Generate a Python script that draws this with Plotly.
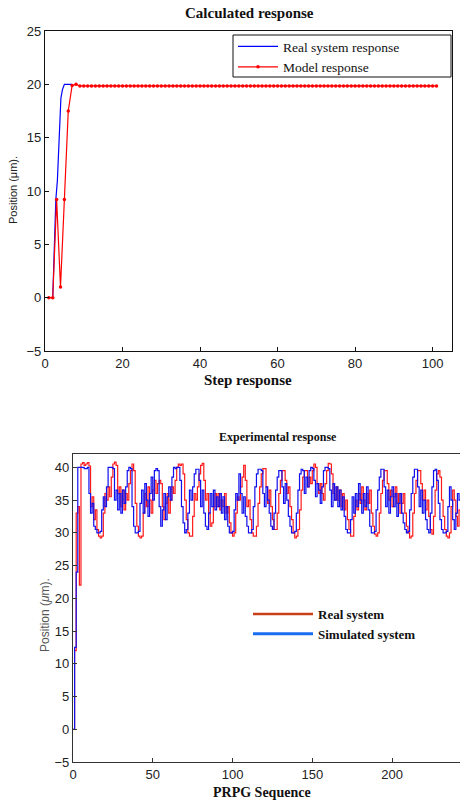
import plotly.graph_objects as go

# ---------- Top chart data: Calculated response ----------
real_step_x = [2, 2.8, 3.2, 3.5, 3.8, 4.1, 4.5, 5.0, 7.0]
real_step_y = [0, 9.2, 11, 14, 16.7, 18.7, 19.5, 20, 20]

model_step_x = list(range(1, 102))
model_step_y = [0, 0, 9.2, 1.0, 9.2, 17.5, 19.9, 20.0] + [19.85] * 93

# ---------- Bottom chart data: Experimental response ----------
sim_y = [
    0, 12.5, 24, 40, 40, 40, 40, 39.8, 39.8, 40,
    36, 33, 34.5, 31, 30.5, 30, 30, 30.2, 33.5, 35.5,
    34, 37, 40, 40, 40, 39.8, 35, 36.5, 33.5, 36,
    33, 36.5, 34.5, 37, 39.5, 40, 39.8, 34, 31, 30,
    30, 30.2, 34.5, 36.5, 33, 37.5, 35, 32.5, 36, 38.5,
    35, 39.5, 39.8, 39.5, 34, 31, 33.5, 36, 32, 35.5,
    37, 35, 38.5, 40, 39.8, 40, 40, 38, 34, 31.5,
    30, 30.5, 33, 36.5, 35, 37, 39, 39.7, 39.7, 38,
    34, 36.5, 33, 31, 30.5, 33, 36, 34, 36.5, 33.5,
    35.5, 34, 36, 33, 35.5, 32, 34, 31, 30, 30,
    30.2, 33.5, 36, 35, 39, 36, 33, 35.5, 32.5, 31,
    30, 30, 30.5, 34, 37, 39, 39.7, 39.7, 39.5, 36,
    34, 37, 35, 33, 31, 30.5, 33, 36.5, 38.5, 39.5,
    39.5, 37, 34.5, 37.5, 35, 32.5, 31, 30, 30, 30.2,
    33, 36.5, 39, 39.7, 39.5, 36, 38.5, 37, 39.5, 40,
    39.8, 38, 35.5, 37.5, 36.5, 34.5, 37, 39.5, 40, 40,
    39.8, 36.5, 34, 37.5, 35, 37, 34, 36.5, 33.5, 35.5,
    32.5, 30.5, 30, 30, 32, 35.5, 33, 36, 34, 37.5,
    35, 33, 36, 34, 37, 33.5, 31, 30, 30, 30.2,
    33.5, 36.5, 38.5, 39.7, 39.7, 37, 34, 36.5, 33, 35.5,
    37, 34, 36, 32.5, 34.5, 36, 33, 31.5, 30.5, 30,
    30.2, 33.5, 36, 38.5, 39.7, 39.7, 37, 34, 36.5, 33,
    35, 32, 30.5, 30, 33, 37, 39.5, 39.7, 38, 34.5,
    32, 30.5, 30, 30, 30.2, 34, 37, 35, 32, 30.5,
    33, 36, 35, 37,
]

real_y = [
    0, 12, 33, 34, 22, 40.5, 40.7, 40.3, 40.5, 40.7,
    40.2, 34, 35.5, 32, 33.5, 30.5, 29.5, 29.2, 29.5, 33,
    36, 35, 37, 35.5, 38.5, 40.5, 40.8, 40.3, 36, 37,
    34, 36.5, 33.5, 36, 35, 37.5, 39.5, 40.5, 39.5, 34.5,
    31, 29.5, 29.2, 29.5, 33, 36, 34, 37, 35, 33,
    36.5, 38, 36, 37.5, 38, 37.5, 34, 32, 34.5, 36,
    33, 35, 37, 36, 38, 40, 40.5, 40.3, 40.5, 39,
    35, 32, 30, 29.5, 29.5, 32.5, 36, 35, 37, 39,
    40.3, 40.6, 38, 35, 36, 33, 31, 31.5, 34, 36,
    34, 36, 33.5, 35, 34, 36, 33, 34, 31.5, 30,
    29.5, 30, 33, 35.5, 35, 37, 38.5, 40.3, 38, 34,
    35, 32, 30, 29.5, 29.5, 31, 34.5, 37, 39, 39.8,
    39.8, 37, 34.5, 36.5, 34, 32, 30.5, 30.5, 33, 36,
    38, 39.5, 39.5, 38, 36, 37, 34, 32, 30, 29.2,
    29.5, 30.5, 33.5, 36.5, 38.5, 39.5, 39.5, 37, 38.5, 37.5,
    39.5, 40.5, 40, 37.5, 36, 37.5, 36, 35, 37.5, 39.5,
    40.6, 40.5, 39, 36, 35, 37, 35, 36.5, 34, 36,
    33.5, 35, 32, 30.5, 29.5, 29.5, 32.5, 35, 33.5, 36,
    34.5, 37, 35, 33.5, 36, 34.5, 36.5, 33, 31, 29.8,
    29.5, 30, 33, 36, 38, 39.5, 39.5, 37.5, 35, 36.5,
    34, 35.5, 37, 34.5, 36, 33, 34.5, 36, 33, 31,
    30, 29.2, 29.5, 33, 36, 38, 39.5, 39.5, 37.5, 35,
    36.5, 33.5, 35, 32.5, 30.5, 29.8, 32.5, 36.5, 39, 39.5,
    38.5, 35, 32.5, 30.5, 29.5, 29.2, 30, 34, 36.5, 35,
    32.5, 31, 33.5, 36,
]
seq_x = list(range(len(sim_y)))

top_x_ticks = [0, 20, 40, 60, 80, 100]
top_y_ticks = [-5, 0, 5, 10, 15, 20, 25]
bot_x_ticks = [0, 50, 100, 150, 200]
bot_y_ticks = [-5, 0, 5, 10, 15, 20, 25, 30, 35, 40]

W, H = 460, 802
def px_x(p):
    return p / W
def px_y(p):
    return 1 - p / H

SERIF = "Liberation Serif, Times New Roman, serif"
SANS = "Liberation Sans, Arial, sans-serif"

fig = go.Figure()

fig.add_trace(go.Scatter(
    x=real_step_x, y=real_step_y, mode="lines", name="Real system response",
    line=dict(color="#0000ff", width=1.2), xaxis="x", yaxis="y", legend="legend",
))
fig.add_trace(go.Scatter(
    x=model_step_x, y=model_step_y, mode="lines+markers", name="Model response",
    line=dict(color="#ff0000", width=1.2), marker=dict(color="#ff0000", size=3.5, symbol="circle"),
    xaxis="x", yaxis="y", legend="legend",
))

fig.add_trace(go.Scatter(
    x=seq_x, y=real_y, mode="lines", line=dict(color="#ff1a1a", width=1.2, shape="hv"),
    showlegend=False, xaxis="x2", yaxis="y2",
))
fig.add_trace(go.Scatter(
    x=seq_x, y=sim_y, mode="lines", line=dict(color="#1010ee", width=1.2, shape="hv"),
    showlegend=False, xaxis="x2", yaxis="y2",
))
# legend entries for the bottom chart
fig.add_trace(go.Scatter(
    x=[None], y=[None], mode="lines", name="Real system",
    line=dict(color="#c8401a", width=2.5), xaxis="x2", yaxis="y2", legend="legend2",
))
fig.add_trace(go.Scatter(
    x=[None], y=[None], mode="lines", name="Simulated system",
    line=dict(color="#1a6cf0", width=3), xaxis="x2", yaxis="y2", legend="legend2",
))

axis_common = dict(showgrid=False, zeroline=False, ticks="inside", ticklen=4,
                   showline=True, mirror=True, automargin=False)

def label(text, x, y, size, family, color="#111", angle=0):
    return dict(text=text, x=px_x(x), y=px_y(y), xref="paper", yref="paper",
                xanchor="center", yanchor="middle", showarrow=False, textangle=angle,
                font=dict(family=family, size=size, color=color))

fig.update_layout(
    width=W, height=H,
    margin=dict(l=0, r=0, t=0, b=0, autoexpand=False),
    paper_bgcolor="white", plot_bgcolor="white",
    xaxis=dict(**axis_common, domain=[px_x(45), px_x(452)], range=[0, 105],
               tickvals=top_x_ticks, linecolor="#111", linewidth=1.3, tickcolor="#111",
               tickfont=dict(family=SANS, size=13, color="#222"), anchor="y"),
    yaxis=dict(**axis_common, domain=[px_y(351), px_y(31)], range=[-5, 25],
               tickvals=top_y_ticks, linecolor="#111", linewidth=1.3, tickcolor="#111",
               tickfont=dict(family=SANS, size=13, color="#222"), anchor="x"),
    xaxis2=dict(**axis_common, domain=[px_x(73), 1.0], range=[0, 242.6],
                tickvals=bot_x_ticks, linecolor="#333", linewidth=1.2, tickcolor="#333",
                tickfont=dict(family=SANS, size=13, color="#222"), anchor="y2"),
    yaxis2=dict(**axis_common, domain=[px_y(762), px_y(454)], range=[-5, 42.03],
                tickvals=bot_y_ticks, linecolor="#333", linewidth=1.2, tickcolor="#333",
                tickfont=dict(family=SANS, size=13, color="#222"), anchor="x2"),
    legend=dict(x=px_x(233), y=px_y(31), xanchor="left", yanchor="top",
                bgcolor="rgba(0,0,0,0)", borderwidth=0,
                font=dict(family=SERIF, size=13.5, color="#111"),
                tracegroupgap=0, itemwidth=40),
    legend2=dict(x=px_x(248), y=px_y(599), xanchor="left", yanchor="top",
                 bgcolor="rgba(0,0,0,0)", borderwidth=0,
                 font=dict(family=SERIF, size=13, color="#111", weight="bold"),
                 itemwidth=60, tracegroupgap=0),
    shapes=[
        dict(type="rect", xref="paper", yref="paper",
             x0=px_x(233), x1=px_x(451), y0=px_y(77), y1=px_y(35),
             line=dict(color="#111", width=1), fillcolor="white", layer="above"),
    ],
    annotations=[
        label("<b>Calculated response</b>", 249, 13, 15, SERIF),
        label("<b>Step response</b>", 248, 380, 15, SERIF),
        label("Position (μm).", 13, 190, 11, SANS, "#222", -90),
        label("<b>Experimental response</b>", 278, 437, 12, SERIF),
        label("<b>PRPG Sequence</b>", 262, 792, 14, SERIF),
        label("Position (<i>μ</i>m).", 45, 615, 12, SANS, "#555", -90),
    ],
)

fig.write_html(
    "out.html",
    config={"displayModeBar": False},
    post_script="document.body.style.margin='0';document.body.style.overflow='hidden';",
)
